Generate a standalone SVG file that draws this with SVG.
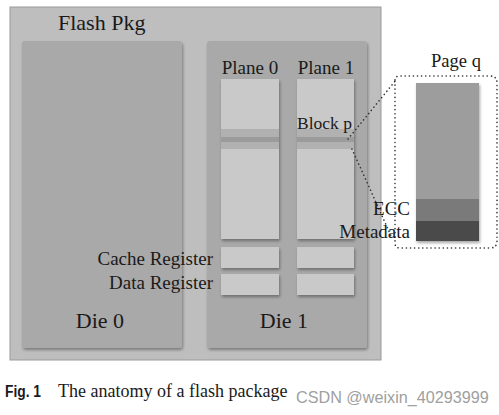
<svg xmlns="http://www.w3.org/2000/svg" width="499" height="415" viewBox="0 0 499 415">
<defs>
<filter id="sh" x="-10%" y="-10%" width="130%" height="130%"><feDropShadow dx="1" dy="2" stdDeviation="1.5" flood-color="#000" flood-opacity="0.35"/></filter>
<style>
.t{font-family:"Liberation Serif","Times New Roman",serif;fill:#1a1a1a}
.die{fill:#a9a9a9;filter:url(#sh)}
.pl{fill:#c9c9c9;filter:url(#sh)}
.dot{fill:none;stroke:#333;stroke-width:1.6;stroke-dasharray:0.1 4;stroke-linecap:round}
</style>
</defs>
<rect width="499" height="415" fill="#fff"/>
<g id="pkg">
<rect x="10" y="7" width="371" height="353" fill="#bebebe" stroke="#9a9a9a" stroke-width="1"/>
<text class="t" x="58" y="30" font-size="22">Flash Pkg</text>
</g>
<g id="die0">
<rect class="die" x="22" y="41" width="160" height="307" rx="3"/>
<text class="t" x="100" y="328" font-size="22" text-anchor="middle">Die 0</text>
</g>
<g id="die1">
<rect class="die" x="207" y="41" width="160" height="307" rx="3"/>
<text class="t" x="284" y="328" font-size="22" text-anchor="middle">Die 1</text>
</g>
<g id="plane0">
<rect class="pl" x="221" y="79" width="58" height="160"/>
<rect x="221" y="129" width="58" height="20" fill="#b1b1b1"/>
<rect x="221" y="137" width="58" height="5" fill="#9b9b9b"/>
<text class="t" x="250" y="74" font-size="19" text-anchor="middle">Plane 0</text>
</g>
<g id="plane1">
<rect class="pl" x="297" y="79" width="57" height="160"/>
<rect x="297" y="129" width="57" height="20" fill="#b1b1b1"/>
<rect x="297" y="137" width="57" height="5" fill="#9b9b9b"/>
<text class="t" x="326" y="74" font-size="19" text-anchor="middle">Plane 1</text>
<text class="t" x="297" y="129" font-size="17.5">Block p</text>
</g>
<g id="cache">
<rect class="pl" x="221" y="247" width="58" height="21"/>
<rect class="pl" x="297" y="247" width="57" height="21"/>
<text class="t" x="213" y="265" font-size="19" text-anchor="end">Cache Register</text>
</g>
<g id="data">
<rect class="pl" x="221" y="274" width="58" height="21"/>
<rect class="pl" x="297" y="274" width="57" height="21"/>
<text class="t" x="213" y="289" font-size="19" text-anchor="end">Data Register</text>
</g>
<g id="connectors">
<path class="dot" d="M348 139 L396 80"/>
<path class="dot" d="M352 149 L392 238"/>
</g>
<g id="pageq">
<path class="dot" d="M395 80 Q395 76 400 76 L490 76 Q497 76 497 83 L497 241 Q497 248 490 248 L400 248 Q395 248 395 243 Z"/>
<rect x="416" y="83" width="63" height="158" fill="#9d9d9d" filter="url(#sh)"/>
<rect x="416" y="199" width="63" height="22" fill="#7a7a7a"/>
<rect x="416" y="221" width="63" height="20" fill="#4a4a4a"/>
<text class="t" x="456" y="67" font-size="18.5" text-anchor="middle">Page q</text>
<text class="t" x="410" y="215" font-size="19" text-anchor="end">ECC</text>
<text class="t" x="410" y="238" font-size="19" text-anchor="end">Metadata</text>
</g>
<g id="caption">
<text x="5" y="397" font-family="Liberation Sans,Arial,sans-serif" font-weight="bold" font-size="16" textLength="36" lengthAdjust="spacingAndGlyphs" fill="#1a1a1a">Fig. 1</text>
<text class="t" x="58" y="397" font-size="18">The anatomy of a flash package</text>
<text x="296" y="403" font-family="Liberation Sans,Arial,sans-serif" font-size="16.2" fill="#a0a0a0">CSDN @weixin_40293999</text>
</g>
</svg>
